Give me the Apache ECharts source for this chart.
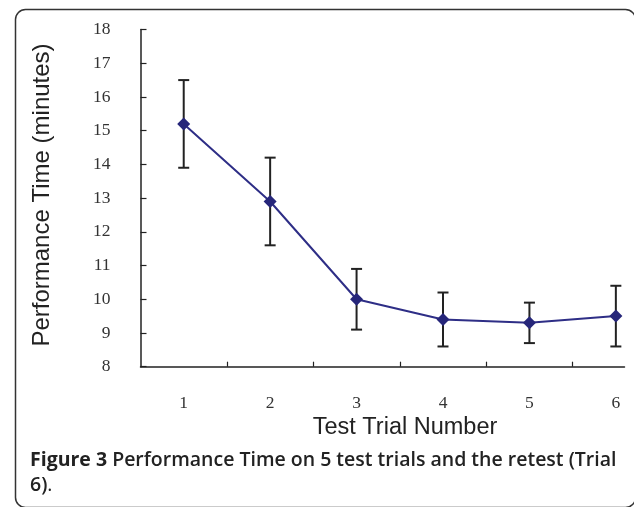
<!DOCTYPE html>
<html><head><meta charset="utf-8">
<script src="https://cdn.jsdelivr.net/npm/echarts@6/dist/echarts.min.js"></script>
<style>html,body{margin:0;padding:0;background:#fff}#c{width:634px;height:507px}</style>
</head><body><div id="c"></div>
<script>
const trials = [1, 2, 3, 4, 5, 6];
const meanTime = [15.2, 12.9, 10.0, 9.4, 9.3, 9.5];
const errTime = [1.3, 1.3, 0.9, 0.8, 0.6, 0.9];
const yTicks = [8, 9, 10, 11, 12, 13, 14, 15, 16, 17, 18];
const xTickMarks = [1.5, 2.5, 3.5, 4.5, 5.5];
const yTitle = 'Performance Time (minutes)';
const xTitle = 'Test Trial Number';
const captionBold = 'Figure 3';
const captionLine1 = ' Performance Time on 5 test trials and the retest (Trial';
const captionLine2 = '6)';

const chart = echarts.init(document.getElementById('c'), null, {renderer: 'canvas'});
const lineData = trials.map((t, i) => [t, meanTime[i]]);
const errData = trials.map((t, i) => [t, meanTime[i] - errTime[i], meanTime[i] + errTime[i]]);
const axisColor = '#222';
chart.setOption({
  animation: false,
  grid: {left: 140.5, right: 9.5, top: 29.5, bottom: 140.3},
  xAxis: {
    type: 'value', min: 0.5, max: 6.1,
    axisLine: {lineStyle: {color: axisColor, width: 1.5}},
    axisTick: {inside: true, length: 5, customValues: xTickMarks, lineStyle: {color: axisColor, width: 1.2}},
    axisLabel: {customValues: trials, margin: 28, color: '#333', fontFamily: 'Liberation Serif', fontSize: 17.5},
    splitLine: {show: false}
  },
  yAxis: {
    type: 'value', min: 8, max: 18, interval: 1,
    axisLine: {show: true, lineStyle: {color: axisColor, width: 1.5}},
    axisTick: {show: true, inside: true, length: 6, lineStyle: {color: axisColor, width: 1.2}},
    axisLabel: {customValues: yTicks, margin: 30, color: '#333', fontFamily: 'Liberation Serif', fontSize: 17.5},
    splitLine: {show: false}
  },
  series: [
    {
      type: 'custom',
      data: errData,
      z: 3,
      renderItem: function (params, api) {
        const x = api.value(0);
        const lo = api.coord([x, api.value(1)]);
        const hi = api.coord([x, api.value(2)]);
        const hw = 5.5;
        const st = {stroke: '#222', lineWidth: 2};
        return {type: 'group', children: [
          {type: 'line', shape: {x1: hi[0], y1: hi[1], x2: lo[0], y2: lo[1]}, style: st},
          {type: 'line', shape: {x1: hi[0] - hw, y1: hi[1], x2: hi[0] + hw, y2: hi[1]}, style: st},
          {type: 'line', shape: {x1: lo[0] - hw, y1: lo[1], x2: lo[0] + hw, y2: lo[1]}, style: st}
        ]};
      }
    },
    {
      type: 'line', data: lineData, z: 4,
      symbol: 'diamond', symbolSize: [13, 13],
      lineStyle: {color: '#2e2e86', width: 2},
      itemStyle: {color: '#26267a'}
    }
  ],
  graphic: [
    {type: 'rect', left: 13, top: 7, shape: {width: 620, height: 498, r: 10}, style: {fill: 'none', stroke: '#333', lineWidth: 1.5}, z: 0},
    {type: 'text', x: 42, y: 195, rotation: Math.PI / 2, style: {text: yTitle, textAlign: 'center', textVerticalAlign: 'middle', font: '24px "Liberation Sans"', fill: '#222'}},
    {type: 'text', x: 405, y: 428, style: {text: xTitle, textAlign: 'center', textVerticalAlign: 'middle', font: '23.5px "Liberation Sans"', fill: '#222'}},
    {type: 'text', x: 30, y: 460, style: {
      text: '{b|' + captionBold + '}{s|' + captionLine1 + '}', textVerticalAlign: 'middle',
      rich: {b: {fontFamily: 'Open Sans', fontWeight: 'bold', fontSize: 19.5, fill: '#222'}, s: {fontFamily: 'Open Sans', fontWeight: 600, fontSize: 19.5, fill: '#222'}}
    }},
    {type: 'text', x: 30, y: 485, style: {
      text: '{s|' + captionLine2 + '}{n|.}', textVerticalAlign: 'middle',
      rich: {s: {fontFamily: 'Open Sans', fontWeight: 600, fontSize: 19.5, fill: '#222'}, n: {fontFamily: 'Open Sans', fontWeight: 'normal', fontSize: 19.5, fill: '#222'}}
    }}
  ]
});
</script></body></html>
